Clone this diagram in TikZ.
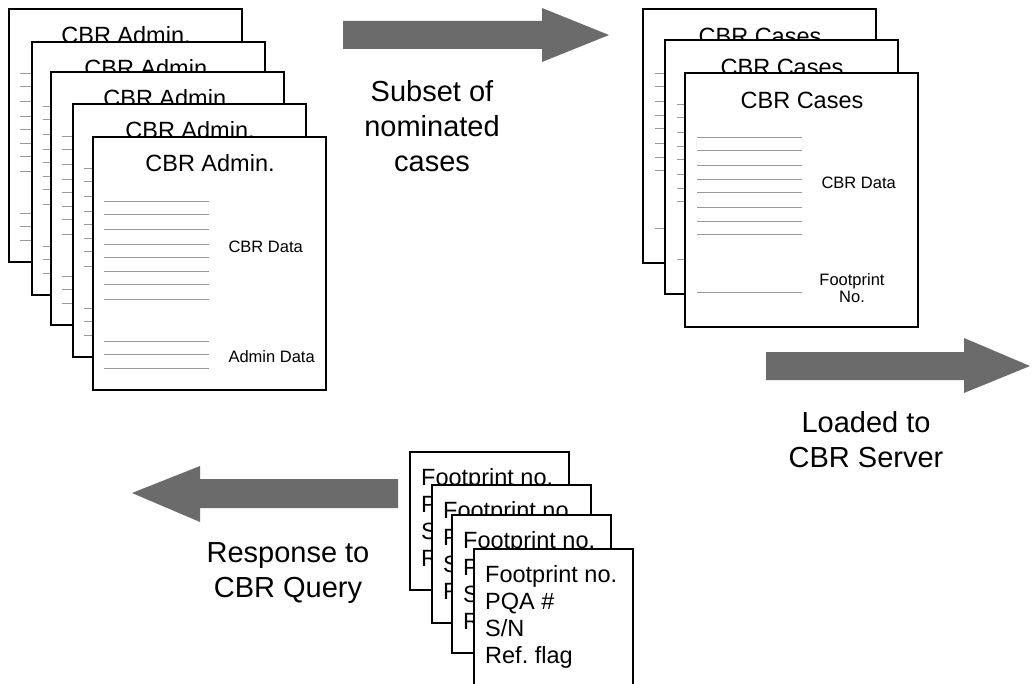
\documentclass[tikz,border=0pt]{standalone}
\usepackage{fontspec}
\setmainfont{Liberation Sans}
\usetikzlibrary{positioning}
\frenchspacing

% one sheet of each stack, drawn from its top left corner
\newcommand{\adminsheet}[3]{%
	\begin{scope}[shift={(#1,#2)}]
		\filldraw [sheet] (0,0) rectangle (233,253);
		\node (#3) [sheettitle] at (117,26) {CBR Admin.};
		\foreach \ly in {64,77,92,107,120,134,147,162,204,217,231}
			\draw [blank] (11,\ly) -- (116,\ly);
		\node (#3data) [fieldname] at (132,110) {CBR Data};
		\node (#3admin) [fieldname] at (132,220) {Admin Data};
	\end{scope}}
\newcommand{\casesheet}[3]{%
	\begin{scope}[shift={(#1,#2)}]
		\filldraw [sheet] (0,0) rectangle (233,254);
		\node (#3) [sheettitle] at (117,27) {CBR Cases};
		\foreach \ly in {64,77,92,106,119,134,148,161,219}
			\draw [blank] (12,\ly) -- (117,\ly);
		\node (#3data) [fieldname] at (133,110) {CBR Data};
		\node (#3fp) [fieldname,align=center,anchor=center] at (167,215) {Footprint\\No.};
	\end{scope}}
\newcommand{\fpsheet}[3]{%
	\begin{scope}[shift={(#1,#2)}]
		\filldraw [sheet] (0,0) rectangle (159,138);
		\node (#3) [fptext] at (11,114) {Footprint no.\\PQA \#\\S/N\\Ref. flag};
	\end{scope}}

\begin{document}
\begin{tikzpicture}[x=1pt,y=-1pt,
		sheet/.style={line width=2pt,fill=white},
		blank/.style={gray!80,line width=0.8pt},
		sheettitle/.style={font=\fontsize{23.5}{28}\selectfont},
		fieldname/.style={anchor=west,font=\fontsize{16.5}{17}\selectfont},
		fptext/.style={anchor=base west,align=left,inner sep=0pt,font=\fontsize{23.5}{27}\selectfont},
		bigarrow/.style={fill=black!58,draw=none},
		arrowtext/.style={anchor=base,align=center,inner sep=0pt,font=\fontsize{29}{35}\selectfont}]
	\useasboundingbox (0,0) rectangle (1032,684);

	% CBR admin records
	\adminsheet{9}{9}{admA}
	\adminsheet{32}{42}{admB}
	\adminsheet{51}{72}{admC}
	\adminsheet{73}{104}{admD}
	\adminsheet{93}{137}{admE}

	% CBR cases
	\casesheet{643}{9}{caseA}
	\casesheet{665}{40}{caseB}
	\casesheet{685}{73}{caseC}

	% footprint records
	\begin{scope}
		\clip (0,0) rectangle (1032,684);
		\fpsheet{410}{452}{fpA}
		\fpsheet{432}{485}{fpB}
		\fpsheet{452}{515}{fpC}
		\fpsheet{474}{549}{fpD}
	\end{scope}

	% arrows (text anchored at the baseline of its last line)
	\fill [bigarrow] (343,21)--(542,21)--(542,8)--(609,35)--(542,62)--(542,49)--(343,49)--cycle;
	\node (subset) [arrowtext] at (432,172) {Subset of\\nominated\\cases};

	\fill [bigarrow] (766,352)--(964,352)--(964,338)--(1030,366)--(964,393)--(964,380)--(766,380)--cycle;
	\node (loaded) [arrowtext] at (866,467) {Loaded to\\CBR Server};

	\fill [bigarrow] (398,479)--(200,479)--(200,466)--(132,493)--(200,522)--(200,508)--(398,508)--cycle;
	\node (response) [arrowtext] at (288,597) {Response to\\CBR Query};
\end{tikzpicture}
\end{document}
